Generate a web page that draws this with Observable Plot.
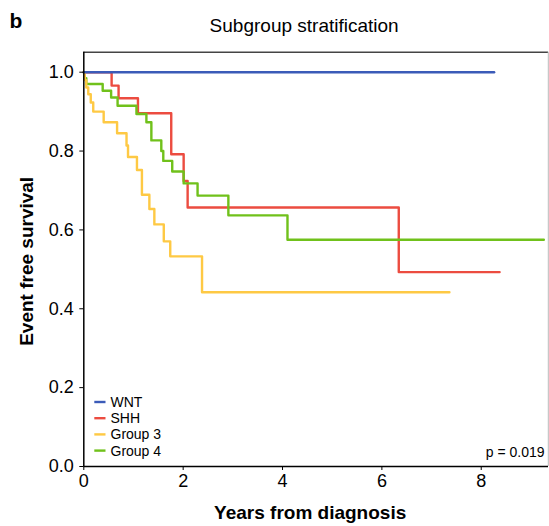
<!DOCTYPE html>
<html>
<head>
<meta charset="utf-8">
<script src="https://cdn.jsdelivr.net/npm/d3@7"></script>
<script src="https://cdn.jsdelivr.net/npm/@observablehq/plot@0.6"></script>
<style>
  html, body { margin: 0; padding: 0; background: #fff; }
  #chart { width: 549px; height: 526px; }
</style>
</head>
<body>
<div id="chart"></div>
<script>
// ---- data ----
const groups = ["WNT", "SHH", "Group 3", "Group 4"];
const colors = ["#3b5bb8", "#ec4c40", "#fec944", "#70c11b"];

const wntTime = [0, 8.26];
const wntSurv = [1.0, 1.0];

const shhTime = [0, 0.56, 0.70, 1.09, 1.76, 2.01, 2.09, 6.34, 8.37];
const shhSurv = [1.0, 0.966, 0.934, 0.896, 0.792, 0.724, 0.657, 0.493, 0.493];

const g3Time = [0, 0.02, 0.05, 0.09, 0.14, 0.19, 0.40, 0.67, 0.86, 0.89, 1.07, 1.17, 1.32, 1.42, 1.61, 1.74, 2.38, 7.36];
const g3Surv = [1.0, 0.98, 0.961, 0.944, 0.923, 0.900, 0.873, 0.845, 0.814, 0.785, 0.752, 0.689, 0.653, 0.614, 0.571, 0.533, 0.442, 0.442];

const g4Time = [0, 0.02, 0.05, 0.38, 0.55, 0.68, 1.06, 1.26, 1.36, 1.56, 1.60, 1.78, 2.01, 2.29, 2.91, 4.10, 9.26];
const g4Surv = [1.0, 0.985, 0.970, 0.953, 0.936, 0.915, 0.894, 0.873, 0.827, 0.800, 0.775, 0.748, 0.718, 0.687, 0.637, 0.575, 0.575];

const xTicks = [0, 2, 4, 6, 8];
const yTicks = [0, 0.2, 0.4, 0.6, 0.8, 1.0];
const xMax = 9.354;
const yMax = 1.0507;
const pText = "p = 0.019";

function series(name, time, surv) {
  return time.map((t, i) => ({group: name, time: t, surv: surv[i]}));
}
const data = [
  ...series("SHH", shhTime, shhSurv),
  ...series("Group 4", g4Time, g4Surv),
  ...series("Group 3", g3Time, g3Surv),
  ...series("WNT", wntTime, wntSurv)
];

const font = "'Liberation Sans', Arial, Helvetica, sans-serif";

const plot = Plot.plot({
  width: 549,
  height: 526,
  marginLeft: 83.3,
  marginRight: 1,
  marginTop: 51.7,
  marginBottom: 60,
  style: {fontFamily: font, fontSize: "18px", color: "#000", background: "#fff", overflow: "visible"},
  x: {domain: [0, xMax]},
  y: {domain: [0, yMax]},
  color: {domain: groups, range: colors},
  marks: [
    Plot.ruleY([yMax], {stroke: "#444", strokeWidth: 1.5}),
    Plot.ruleX([xMax], {stroke: "#c8c8c8", strokeWidth: 1.5}),
    Plot.line(data, {x: "time", y: "surv", z: "group", stroke: "group", curve: "step-after", strokeWidth: 2.4}),
    Plot.axisX({ticks: xTicks, tickSize: 4, tickPadding: 4, label: null, fontSize: 18, tickFormat: d3.format("d")}),
    Plot.axisY({ticks: yTicks, tickSize: 4, tickPadding: 6, label: null, fontSize: 18, tickFormat: d3.format(".1f")}),
    Plot.ruleX([0], {stroke: "#000", strokeWidth: 1.5}),
    Plot.ruleY([0], {stroke: "#000", strokeWidth: 1.5}),
    Plot.text(["Years from diagnosis"], {frameAnchor: "bottom", textAnchor: "middle", lineAnchor: "middle", dx: -6, dy: 46.5, fontWeight: "bold", fontSize: 19}),
    Plot.text(["Event free survival"], {frameAnchor: "left", textAnchor: "middle", lineAnchor: "middle", dx: -57, dy: 2, rotate: -90, fontWeight: "bold", fontSize: 19}),
    Plot.text(["Subgroup stratification"], {frameAnchor: "top", textAnchor: "middle", lineAnchor: "middle", dx: -12, dy: -26.7, fontSize: 19}),
    Plot.text(["b"], {frameAnchor: "top-left", textAnchor: "start", lineAnchor: "middle", dx: -74.3, dy: -31, fontWeight: "bold", fontSize: 21}),
    Plot.text([pText], {frameAnchor: "bottom-right", textAnchor: "end", lineAnchor: "middle", dx: -4, dy: -14, fontSize: 14}),
    ...groups.map((g, i) => Plot.text([g], {frameAnchor: "bottom-left", textAnchor: "start", lineAnchor: "middle", dx: 26.7, dy: -64 + i * 16.2, fontSize: 14}))
  ]
});

// legend swatches
const svg = d3.select(plot);
const sw = svg.append("g");
groups.forEach((g, i) => {
  const yy = 466 - 64 + i * 16.2;
  sw.append("line")
    .attr("x1", 94.3).attr("x2", 105.5)
    .attr("y1", yy).attr("y2", yy)
    .attr("stroke", colors[i]).attr("stroke-width", 2.4);
});

document.getElementById("chart").appendChild(plot);
</script>
</body>
</html>
